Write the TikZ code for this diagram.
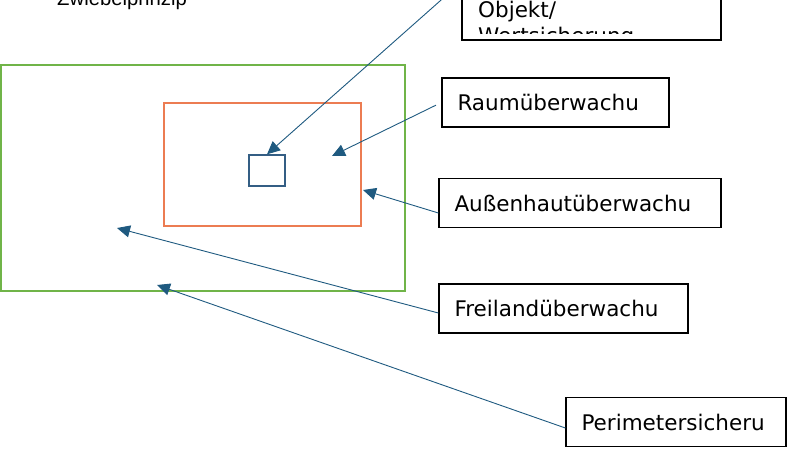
\documentclass[tikz,border=0pt]{standalone}
\usepackage{fontspec}
\setmainfont{DejaVu Sans}
\newfontfamily\titelfont{Liberation Sans}
\usepackage{tikz}
\usetikzlibrary{arrows.meta}
\usepackage{xcolor}
\definecolor{pfeilblau}{RGB}{31,90,128}
\definecolor{kernblau}{RGB}{52,94,132}
\definecolor{gruenzone}{RGB}{112,180,72}
\definecolor{orangezone}{RGB}{236,124,82}

\begin{document}
\begin{tikzpicture}[
    x=1pt, y=-1pt,
    zone/.style={draw, line width=1.4pt, inner sep=0pt},
    box/.style={draw, line width=1.2pt, inner xsep=15.5pt, inner ysep=0pt, text width=#1, align=left,
      minimum height=49pt, font=\fontsize{21.5}{26}\selectfont},
    lbl/.style={inner sep=0pt, font=\fontsize{21.5}{26}\selectfont},
    pfeil/.style={-{Triangle[length=13pt, width=12pt]}, line width=0.9pt, color=pfeilblau}
  ]
  \useasboundingbox (0,0) rectangle (789,448);
  % Schalen
  \node[zone, draw=gruenzone, minimum width=404pt, minimum height=226pt] (freizone) at (203,178) {};
  \node[zone, draw=orangezone, minimum width=197pt, minimum height=123pt] (huelle) at (262.5,164.5) {};
  \node[zone, draw=kernblau, minimum width=36pt, minimum height=31pt] (kern) at (267,170.5) {};
  % Titel
  \node[anchor=base west, inner sep=0pt, font=\titelfont\fontsize{20.3}{24}\selectfont] (titel) at (57,5) {Zwiebelprinzip};
  % Beschriftungen
  \node[draw, line width=1.2pt, minimum width=259pt, minimum height=116pt] (objekt) at (591.5,-18) {};
  \begin{scope}
    \clip (462,-80) rectangle (721,33);
    \node[lbl, anchor=base west] (objtext) at (478,17) {Objekt/};
    \node[lbl, anchor=base west] (werttext) at (478,43) {Wertsicherung};
  \end{scope}
  \node[box=196pt] (raum) at (555.5,102.5) {Raumüberwachu};
  \node[box=251pt] (aussen) at (580,203) {Außenhautüberwachu};
  \node[box=218pt] (frei) at (563.5,308.5) {Freilandüberwachu};
  \node[box=189pt] (peri) at (676,422) {Perimetersicheru};
  % Pfeilziele
  \coordinate (raumziel) at (332,156);
  \coordinate (aussenziel) at (363,190);
  \coordinate (freiziel) at (117,228);
  \coordinate (periziel) at (157,285);
  \draw[pfeil] (objekt.west) -- (kern.north);
  \draw[pfeil, shorten <=6pt] (raum.west) -- (raumziel);
  \draw[pfeil] ([yshift=-10pt]aussen.west) -- (aussenziel);
  \draw[pfeil] ([yshift=-4.5pt]frei.west) -- (freiziel);
  \draw[pfeil] ([yshift=-6pt]peri.west) -- (periziel);
\end{tikzpicture}
\end{document}
